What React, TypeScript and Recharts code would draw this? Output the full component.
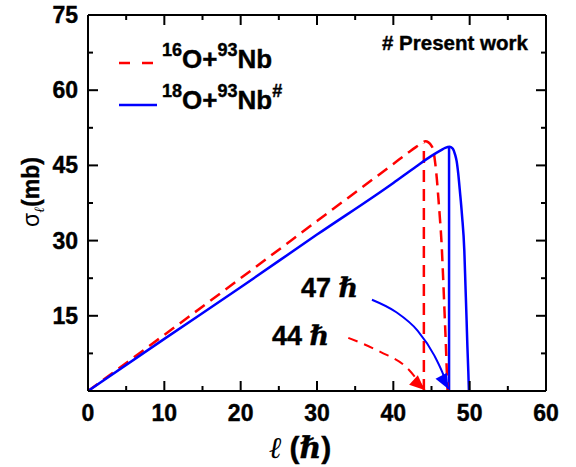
import React from 'react';
import { LineChart, Line, XAxis, YAxis } from 'recharts';

// partial cross sections sigma_l (mb) vs l (hbar)
const o16Nb93 = [
  { l: 0, s: 0 }, { l: 10, s: 11.2 }, { l: 20, s: 22.5 }, { l: 30, s: 33.9 },
  { l: 40, s: 45.3 }, { l: 42, s: 47.6 }, { l: 43, s: 48.7 }, { l: 43.7, s: 49.4 },
  { l: 44.2, s: 49.8 }, { l: 44.6, s: 49.6 }, { l: 45.0, s: 48.9 }, { l: 45.2, s: 48.2 },
  { l: 45.5, s: 45.3 }, { l: 45.7, s: 42.3 }, { l: 45.9, s: 38.5 }, { l: 46.1, s: 34.5 },
  { l: 46.3, s: 30 }, { l: 46.5, s: 23.5 }, { l: 46.7, s: 16 }, { l: 46.9, s: 8.5 },
  { l: 47.05, s: 2 }, { l: 47.1, s: 0 },
];
const o18Nb93 = [
  { l: 0, s: 0 }, { l: 10, s: 10.4 }, { l: 20, s: 20.7 }, { l: 30, s: 31.2 },
  { l: 40, s: 41.5 }, { l: 43, s: 44.8 }, { l: 45, s: 46.9 }, { l: 46.2, s: 48.0 },
  { l: 46.8, s: 48.5 }, { l: 47.4, s: 48.7 }, { l: 47.8, s: 48.3 }, { l: 48.1, s: 47.1 },
  { l: 48.3, s: 45.8 }, { l: 48.5, s: 43.4 }, { l: 48.7, s: 40.2 }, { l: 49.0, s: 35 },
  { l: 49.3, s: 28 }, { l: 49.45, s: 21 }, { l: 49.6, s: 14 }, { l: 49.7, s: 9 },
  { l: 49.82, s: 4 }, { l: 49.9, s: 0 },
];
// l_max markers
const o16Max = [{ l: 44.0, s: 0 }, { l: 44.0, s: 49.3 }];
const o18Max = [{ l: 47.3, s: 0 }, { l: 47.3, s: 48.7 }];
// annotation arrows
const arrow47 = [
  { l: 37.2, s: 18.2 }, { l: 40.4, s: 15.7 }, { l: 43.2, s: 12.0 },
  { l: 45.4, s: 7.0 }, { l: 46.4, s: 3.8 }, { l: 47.2, s: 0.4 },
];
const arrow44 = [
  { l: 34.1, s: 10.6 }, { l: 38.3, s: 7.8 }, { l: 41.8, s: 4.6 }, { l: 44.1, s: 0.2 },
];

const xTicks = [0, 5, 10, 15, 20, 25, 30, 35, 40, 45, 50, 55, 60];
const yTicks = [0, 7.5, 15, 22.5, 30, 37.5, 45, 52.5, 60, 67.5, 75];

const sans = '"Liberation Sans", Arial, sans-serif';
const serif = '"DejaVu Serif", "Liberation Serif", serif';
const bold = { fontFamily: sans, fontWeight: 700, fill: '#000', stroke: '#000', strokeWidth: 0.4 };
const tickFont = { ...bold, fontSize: 23 };

const BottomTick = (props: any) => {
  const { x, y, payload } = props;
  const major = payload.value % 10 === 0;
  return (
    <g>
      <line x1={x} x2={x} y1={y} y2={y - (major ? 10 : 5)} stroke="#000" strokeWidth={2} />
      {major && (
        <text x={x} y={y + 30} textAnchor="middle" style={tickFont}>{payload.value}</text>
      )}
    </g>
  );
};

const TopTick = (props: any) => {
  const { x, y, payload } = props;
  const major = payload.value % 10 === 0;
  return <line x1={x} x2={x} y1={y} y2={y + (major ? 10 : 5)} stroke="#000" strokeWidth={2} />;
};

const LeftTick = (props: any) => {
  const { x, y, payload } = props;
  const major = payload.value % 15 === 0;
  return (
    <g>
      <line x1={x} x2={x + (major ? 10 : 5)} y1={y} y2={y} stroke="#000" strokeWidth={2} />
      {major && payload.value !== 0 && (
        <text x={x - 10} y={y + 8} textAnchor="end" style={tickFont}>{payload.value}</text>
      )}
    </g>
  );
};

const RightTick = (props: any) => {
  const { x, y, payload } = props;
  const major = payload.value % 15 === 0;
  return <line x1={x} x2={x - (major ? 10 : 5)} y1={y} y2={y} stroke="#000" strokeWidth={2} />;
};

const arrowHead = (color: string, angle: number, last: number) => (props: any) => {
  const { cx, cy, index } = props;
  if (index !== last || cx == null) return <g key={`a-${index}`} />;
  const a = (angle * Math.PI) / 180;
  const len = 15;
  const half = 6.5;
  const bx = cx - len * Math.cos(a);
  const by = cy - len * Math.sin(a);
  const px = -Math.sin(a) * half;
  const py = Math.cos(a) * half;
  return (
    <polygon
      key={`a-${index}`}
      points={`${cx},${cy} ${bx + px},${by + py} ${bx - px},${by - py}`}
      fill={color}
    />
  );
};

const App = () => {
  return (
    <div style={{ position: 'absolute', left: 0, top: 0, width: 576, height: 467, background: '#fff' }}>
      <LineChart width={576} height={467} margin={{ top: 14, right: 29, bottom: 0, left: 0 }}>
        <XAxis
          dataKey="l" type="number" domain={[0, 60]} ticks={xTicks} interval={0} allowDataOverflow
          tickSize={0} tickMargin={0} tickLine={false} height={76}
          axisLine={{ stroke: '#000', strokeWidth: 2 }} tick={<BottomTick />}
        />
        <XAxis
          xAxisId="top" orientation="top" dataKey="l" type="number" domain={[0, 60]} ticks={xTicks}
          interval={0} allowDataOverflow tickSize={0} tickMargin={0} tickLine={false} height={1}
          axisLine={{ stroke: '#000', strokeWidth: 2 }} tick={<TopTick />}
        />
        <YAxis
          type="number" domain={[0, 75]} ticks={yTicks} interval={0} allowDataOverflow
          tickSize={0} tickMargin={0} tickLine={false} width={88}
          axisLine={{ stroke: '#000', strokeWidth: 2 }} tick={<LeftTick />}
        />
        <YAxis
          yAxisId="right" orientation="right" type="number" domain={[0, 75]} ticks={yTicks}
          interval={0} allowDataOverflow tickSize={0} tickMargin={0} tickLine={false} width={1}
          axisLine={{ stroke: '#000', strokeWidth: 2 }} tick={<RightTick />}
        />
        <Line data={o16Max} dataKey="s" type="linear" stroke="#ff0000" strokeWidth={2.5}
          strokeDasharray="12 7" dot={false} isAnimationActive={false} />
        <Line data={o18Max} dataKey="s" type="linear" stroke="#0000ff" strokeWidth={2.5}
          dot={false} isAnimationActive={false} />
        <Line data={o16Nb93} dataKey="s" type="monotone" stroke="#ff0000" strokeWidth={2.5}
          strokeDasharray="12 7" dot={false} isAnimationActive={false} />
        <Line data={o18Nb93} dataKey="s" type="monotone" stroke="#0000ff" strokeWidth={2.5}
          dot={false} isAnimationActive={false} />
        <Line data={arrow47} dataKey="s" type="monotone" stroke="#0000ff" strokeWidth={2}
          dot={arrowHead('#0000ff', 62, arrow47.length - 1)} isAnimationActive={false} />
        <Line data={arrow44} dataKey="s" type="monotone" stroke="#ff0000" strokeWidth={2}
          strokeDasharray="10 7" dot={arrowHead('#ff0000', 42, arrow44.length - 1)}
          isAnimationActive={false} />
      </LineChart>
      <svg width={576} height={467} style={{ position: 'absolute', left: 0, top: 0, pointerEvents: 'none' }}>
        {/* legend */}
        <line x1={119} x2={156} y1={63} y2={63} stroke="#ff0000" strokeWidth={2.5} strokeDasharray="11 12" />
        <line x1={119} x2={157} y1={105} y2={105} stroke="#0000ff" strokeWidth={2.5} />
        <text x={162} y={68} style={{ ...bold, fontSize: 26 }}>
          <tspan fontSize={18} dy={-12}>16</tspan>
          <tspan dy={12}>O+</tspan>
          <tspan fontSize={18} dy={-12}>93</tspan>
          <tspan dy={12}>Nb</tspan>
        </text>
        <text x={162} y={109} style={{ ...bold, fontSize: 26 }}>
          <tspan fontSize={18} dy={-12}>18</tspan>
          <tspan dy={12}>O+</tspan>
          <tspan fontSize={18} dy={-12}>93</tspan>
          <tspan dy={12}>Nb</tspan>
          <tspan fontSize={18} dy={-12}>#</tspan>
        </text>
        <text x={382} y={50} style={{ ...bold, fontSize: 20.5 }}># Present work</text>
        {/* annotations */}
        <text x={301} y={297} style={{ ...bold, fontSize: 27 }}>
          47 <tspan style={{ fontFamily: serif, fontStyle: 'italic' }}>ℏ</tspan>
        </text>
        <text x={272} y={345} style={{ ...bold, fontSize: 27 }}>
          44 <tspan style={{ fontFamily: serif, fontStyle: 'italic' }}>ℏ</tspan>
        </text>
        {/* axis titles */}
        <text x={300} y={458} textAnchor="middle" style={{ ...bold, fontSize: 30 }}>
          <tspan style={{ fontFamily: serif, fontStyle: 'italic', fontWeight: 400 }} strokeWidth={0}>ℓ</tspan>
          {'  ('}
          <tspan style={{ fontFamily: serif, fontStyle: 'italic' }}>ℏ</tspan>
          )
        </text>
        <text x={39} y={192} transform="rotate(-90 39 192)" textAnchor="middle"
          style={{ ...bold, fontSize: 23 }}>
          <tspan fontWeight={400} strokeWidth={0}>σ</tspan>
          <tspan style={{ fontFamily: serif, fontStyle: 'italic', fontWeight: 400 }} strokeWidth={0} fontSize={14} dy={5}>ℓ</tspan>
          <tspan dy={-5}>(mb)</tspan>
        </text>
      </svg>
    </div>
  );
};

export default App;
